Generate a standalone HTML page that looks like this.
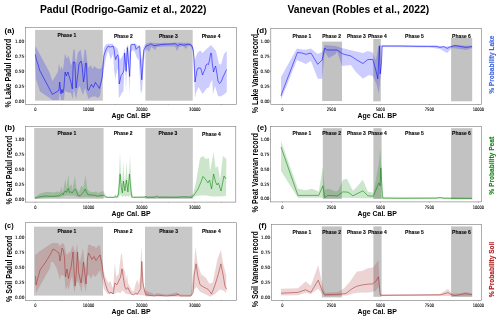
<!DOCTYPE html>
<html><head><meta charset="utf-8"><title>Padul and Vanevan records</title>
<style>html,body{margin:0;padding:0;background:#fff;width:500px;height:321px;overflow:hidden}svg{display:block}</style>
</head><body>
<svg width="500" height="321" viewBox="0 0 500 321"><text x="40.00" y="13.20" font-size="10.8" style="font-family:'Liberation Sans',sans-serif;font-weight:bold" fill="#000" text-anchor="start" textLength="166.40" lengthAdjust="spacingAndGlyphs">Padul (Rodrigo-Gamiz et al., 2022)</text>
<text x="287.40" y="13.20" font-size="10.8" style="font-family:'Liberation Sans',sans-serif;font-weight:bold" fill="#000" text-anchor="start" textLength="141.80" lengthAdjust="spacingAndGlyphs">Vanevan (Robles et al., 2022)</text>
<rect x="35.1" y="29.9" width="67.70" height="70.80" fill="#c8c8c8"/>
<rect x="145.4" y="29.9" width="47.30" height="70.80" fill="#c8c8c8"/>
<path d="M35.2,45.8 L49.4,72.0 L52.4,81.0 L57.9,72.0 L58.9,63.4 L60.4,69.9 L61.5,66.0 L63.0,70.0 L64.9,54.0 L65.7,55.0 L66.9,58.9 L68.4,55.4 L70.8,63.9 L71.8,64.9 L73.3,49.5 L74.8,50.0 L75.8,64.9 L77.8,53.0 L78.5,52.0 L80.5,49.5 L82.0,58.0 L83.0,64.0 L84.5,50.0 L86.0,49.5 L87.0,60.0 L88.5,68.0 L91.0,65.0 L92.4,69.0 L94.4,66.0 L96.4,68.0 L99.0,69.0 L101.4,68.0 L102.9,60.0 L103.9,48.0 L105.9,44.5 L108.0,43.7 L112.7,43.7 L113.5,45.0 L115.0,46.5 L116.4,47.5 L117.4,48.4 L118.1,50.3 L118.8,54.0 L120.0,60.0 L122.0,56.8 L123.4,54.0 L124.7,48.4 L125.8,55.0 L127.2,45.6 L128.1,44.7 L129.0,54.0 L130.5,43.7 L136.0,43.7 L137.0,45.6 L139.8,45.0 L141.8,60.0 L143.8,46.0 L146.0,43.5 L150.0,42.5 L155.0,43.0 L160.0,43.0 L165.0,42.8 L170.0,43.0 L175.0,42.5 L185.0,42.8 L190.0,43.0 L192.0,44.5 L193.5,48.0 L194.5,61.0 L196.0,56.0 L198.0,52.0 L200.5,50.5 L202.5,53.0 L206.0,49.5 L211.0,45.0 L213.5,48.0 L216.0,51.0 L219.0,64.0 L221.0,64.5 L224.0,54.0 L226.8,51.0 L226.8,92.0 L224.0,94.5 L220.5,96.5 L218.0,96.0 L215.0,86.0 L213.0,94.5 L212.2,80.0 L210.5,83.0 L209.0,87.5 L207.0,88.0 L202.5,94.0 L198.5,87.0 L196.0,93.0 L195.0,98.0 L194.0,70.0 L193.0,52.0 L191.0,46.5 L188.0,46.0 L186.0,49.0 L183.0,46.0 L179.0,47.0 L177.0,51.0 L175.0,46.5 L165.0,46.5 L157.0,47.0 L155.0,50.0 L153.0,48.0 L151.0,47.0 L149.0,52.0 L147.0,49.0 L145.0,52.0 L143.8,62.0 L142.2,89.8 L140.8,93.8 L138.8,60.0 L136.9,58.0 L134.9,52.0 L132.9,50.0 L130.9,52.0 L130.2,70.0 L129.5,94.8 L128.5,70.0 L127.5,60.0 L126.6,75.0 L126.0,91.5 L125.5,75.0 L124.6,60.0 L124.2,75.0 L123.4,91.5 L122.0,92.5 L120.2,96.2 L118.8,98.0 L118.3,75.0 L117.6,68.0 L116.9,71.9 L116.0,74.7 L115.5,80.3 L114.1,70.0 L113.1,54.0 L112.2,55.9 L110.8,59.6 L109.9,56.8 L108.0,50.3 L106.0,57.9 L104.0,67.9 L102.0,79.8 L100.0,95.8 L97.9,97.9 L95.5,96.4 L93.4,96.4 L91.0,96.9 L88.5,98.9 L86.5,93.0 L85.0,88.0 L83.0,95.0 L81.0,90.0 L79.8,85.9 L77.8,88.9 L76.5,96.9 L75.8,97.9 L73.8,88.9 L72.8,98.9 L70.9,92.9 L66.9,91.9 L64.9,90.9 L63.9,99.9 L60.9,99.9 L59.7,91.9 L58.9,99.9 L52.4,99.9 L40.0,91.4 L36.0,79.0 L35.2,64.5Z" fill="#0000ff" fill-opacity="0.2" stroke="none"/>
<path d="M35.2,54.4 L36.5,59.9 L38.5,65.9 L39.5,70.0 L52.4,94.4 L58.9,90.4 L59.7,82.0 L60.4,87.9 L60.9,93.9 L61.9,89.4 L62.9,92.9 L63.9,88.0 L65.1,72.0 L66.4,76.0 L67.9,72.0 L69.4,77.0 L70.9,82.0 L72.3,88.9 L73.3,62.0 L74.8,62.0 L76.0,88.0 L78.0,73.0 L79.0,64.0 L81.0,61.0 L82.0,65.0 L83.5,82.0 L84.5,76.0 L85.5,63.4 L86.3,63.0 L87.5,89.0 L88.5,90.4 L91.4,84.4 L93.4,87.4 L95.4,82.4 L97.4,85.4 L99.4,88.4 L101.4,81.0 L102.4,76.0 L103.9,56.0 L105.4,51.0 L107.4,47.0 L108.0,46.1 L109.9,47.0 L111.7,46.7 L113.1,46.1 L114.1,49.4 L115.0,56.8 L115.7,59.6 L116.9,55.9 L117.8,55.0 L118.5,58.7 L119.2,84.0 L119.7,82.2 L121.1,75.6 L123.0,72.8 L123.9,70.0 L124.6,53.0 L126.2,71.4 L127.3,47.5 L129.7,76.5 L130.9,45.6 L131.9,44.2 L133.3,44.7 L134.7,44.2 L136.1,49.4 L137.0,48.4 L138.4,47.0 L139.8,46.5 L140.2,56.0 L141.8,79.8 L143.8,50.0 L146.2,46.0 L148.8,45.2 L150.9,43.8 L154.0,45.8 L157.0,45.2 L161.2,44.6 L167.3,44.2 L175.6,43.8 L177.6,45.8 L179.7,44.2 L183.8,45.2 L187.9,44.2 L190.0,44.5 L192.0,46.0 L193.2,50.0 L194.0,58.0 L195.0,82.0 L196.0,76.0 L197.0,70.0 L198.0,68.0 L200.5,68.0 L201.0,69.0 L202.5,75.0 L205.5,68.0 L206.0,65.0 L207.5,64.0 L208.5,64.5 L209.5,60.0 L210.8,53.0 L211.5,53.5 L212.2,63.0 L213.0,68.0 L213.5,72.0 L214.5,69.0 L215.5,66.0 L216.0,68.0 L217.0,74.0 L218.0,81.0 L219.5,83.5 L221.0,82.0 L223.0,77.0 L225.0,73.0 L226.5,69.5" fill="none" stroke="#0000ff" stroke-width="0.6" stroke-opacity="0.9" stroke-linejoin="round"/>
<rect x="25.4" y="27.4" width="211.10" height="76.90" fill="none" stroke="#777777" stroke-width="0.6"/>
<line x1="24.40" y1="101.20" x2="25.40" y2="101.20" stroke="#777777" stroke-width="0.5"/>
<line x1="24.40" y1="86.20" x2="25.40" y2="86.20" stroke="#777777" stroke-width="0.5"/>
<line x1="24.40" y1="71.20" x2="25.40" y2="71.20" stroke="#777777" stroke-width="0.5"/>
<line x1="24.40" y1="56.20" x2="25.40" y2="56.20" stroke="#777777" stroke-width="0.5"/>
<line x1="24.40" y1="41.20" x2="25.40" y2="41.20" stroke="#777777" stroke-width="0.5"/>
<line x1="35.40" y1="104.30" x2="35.40" y2="105.30" stroke="#777777" stroke-width="0.5" stroke-opacity="1"/>
<line x1="61.98" y1="104.30" x2="61.98" y2="105.30" stroke="#777777" stroke-width="0.5" stroke-opacity="0.6"/>
<line x1="88.55" y1="104.30" x2="88.55" y2="105.30" stroke="#777777" stroke-width="0.5" stroke-opacity="1"/>
<line x1="115.12" y1="104.30" x2="115.12" y2="105.30" stroke="#777777" stroke-width="0.5" stroke-opacity="0.6"/>
<line x1="141.70" y1="104.30" x2="141.70" y2="105.30" stroke="#777777" stroke-width="0.5" stroke-opacity="1"/>
<line x1="168.28" y1="104.30" x2="168.28" y2="105.30" stroke="#777777" stroke-width="0.5" stroke-opacity="0.6"/>
<line x1="194.85" y1="104.30" x2="194.85" y2="105.30" stroke="#777777" stroke-width="0.5" stroke-opacity="1"/>
<line x1="221.43" y1="104.30" x2="221.43" y2="105.30" stroke="#777777" stroke-width="0.5" stroke-opacity="0.6"/>
<rect x="34.2" y="128.0" width="69.40" height="70.80" fill="#c8c8c8"/>
<rect x="145.4" y="128.0" width="47.40" height="70.80" fill="#c8c8c8"/>
<path d="M35.0,197.0 L40.0,193.5 L46.0,192.0 L50.0,191.9 L54.0,192.4 L57.0,191.4 L60.0,191.9 L61.5,185.9 L62.5,192.4 L63.5,189.0 L65.4,179.0 L66.4,188.0 L68.4,174.5 L69.4,187.0 L71.4,184.0 L72.4,190.0 L74.9,175.5 L76.4,188.0 L78.9,192.0 L81.4,185.4 L83.4,188.0 L85.4,175.0 L87.4,189.0 L89.4,191.4 L92.8,192.0 L94.0,191.9 L96.0,191.4 L98.0,193.0 L100.0,192.0 L103.5,191.1 L105.0,194.0 L106.0,196.4 L113.9,196.4 L115.4,193.9 L116.4,196.4 L117.9,191.9 L119.2,170.0 L120.0,152.0 L120.9,172.0 L121.8,186.0 L122.6,176.0 L123.3,161.5 L124.1,176.0 L124.9,184.0 L125.7,176.0 L126.5,160.5 L127.3,176.0 L128.2,184.0 L129.2,170.0 L130.0,155.0 L130.9,174.0 L131.8,190.0 L133.0,196.3 L145.0,196.2 L160.0,196.2 L190.0,196.2 L193.0,194.0 L196.0,182.0 L200.0,158.0 L203.0,156.0 L206.0,159.0 L209.0,158.0 L210.0,172.0 L213.6,152.0 L215.6,168.0 L218.0,166.0 L220.0,180.0 L223.0,156.0 L226.4,159.0 L226.0,196.0 L220.0,196.6 L212.0,196.6 L206.0,195.6 L200.0,195.6 L196.0,196.0 L193.0,197.6 L190.0,198.2 L145.0,198.2 L131.4,198.0 L129.9,195.0 L128.4,196.9 L126.9,195.4 L125.4,196.9 L123.9,195.4 L122.4,196.9 L120.4,194.5 L118.0,198.0 L106.0,198.0 L100.0,197.4 L90.0,197.2 L86.0,197.0 L80.0,197.4 L76.0,196.4 L74.0,195.8 L70.0,195.6 L66.0,195.6 L60.0,197.4 L50.0,197.4 L42.0,198.2 L35.0,199.0Z" fill="#008000" fill-opacity="0.2" stroke="none"/>
<path d="M35.0,198.3 L38.0,197.2 L42.0,196.4 L46.0,196.0 L50.0,196.4 L55.0,196.2 L59.0,195.9 L61.0,194.4 L62.0,193.4 L63.0,194.9 L64.4,191.9 L65.4,190.9 L66.4,192.4 L67.4,189.9 L68.4,188.4 L69.4,192.4 L70.9,191.9 L72.4,192.9 L73.9,190.4 L75.4,189.1 L76.4,191.4 L77.9,195.4 L79.9,195.9 L81.9,193.9 L83.9,191.4 L85.4,189.1 L86.4,191.9 L87.9,194.7 L89.8,194.9 L92.8,195.1 L95.8,195.4 L97.0,196.4 L99.5,195.7 L102.0,195.4 L104.0,195.1 L105.5,196.9 L108.0,197.4 L113.9,197.4 L115.4,196.4 L116.9,197.4 L118.4,194.9 L120.1,174.0 L121.4,187.9 L122.4,192.9 L123.4,181.0 L124.9,190.9 L126.4,180.0 L127.9,191.9 L129.4,174.0 L130.9,189.9 L131.8,196.9 L133.3,197.4 L145.0,197.2 L145.5,196.0 L146.5,197.4 L155.0,197.2 L156.5,196.0 L158.0,197.2 L176.0,197.3 L184.0,196.8 L192.0,197.3 L194.0,195.0 L198.0,189.0 L201.0,182.0 L203.0,176.4 L206.0,180.0 L208.0,183.0 L209.6,180.0 L211.6,189.0 L213.6,174.0 L215.6,182.0 L217.0,185.0 L218.4,183.0 L221.0,191.0 L224.0,176.0 L226.0,179.0" fill="none" stroke="#008000" stroke-width="0.6" stroke-opacity="0.9" stroke-linejoin="round"/>
<rect x="25.4" y="126.4" width="210.40" height="75.70" fill="none" stroke="#777777" stroke-width="0.6"/>
<line x1="24.40" y1="199.30" x2="25.40" y2="199.30" stroke="#777777" stroke-width="0.5"/>
<line x1="24.40" y1="184.30" x2="25.40" y2="184.30" stroke="#777777" stroke-width="0.5"/>
<line x1="24.40" y1="169.30" x2="25.40" y2="169.30" stroke="#777777" stroke-width="0.5"/>
<line x1="24.40" y1="154.30" x2="25.40" y2="154.30" stroke="#777777" stroke-width="0.5"/>
<line x1="24.40" y1="139.30" x2="25.40" y2="139.30" stroke="#777777" stroke-width="0.5"/>
<line x1="35.40" y1="202.10" x2="35.40" y2="203.10" stroke="#777777" stroke-width="0.5" stroke-opacity="1"/>
<line x1="61.98" y1="202.10" x2="61.98" y2="203.10" stroke="#777777" stroke-width="0.5" stroke-opacity="0.6"/>
<line x1="88.55" y1="202.10" x2="88.55" y2="203.10" stroke="#777777" stroke-width="0.5" stroke-opacity="1"/>
<line x1="115.12" y1="202.10" x2="115.12" y2="203.10" stroke="#777777" stroke-width="0.5" stroke-opacity="0.6"/>
<line x1="141.70" y1="202.10" x2="141.70" y2="203.10" stroke="#777777" stroke-width="0.5" stroke-opacity="1"/>
<line x1="168.28" y1="202.10" x2="168.28" y2="203.10" stroke="#777777" stroke-width="0.5" stroke-opacity="0.6"/>
<line x1="194.85" y1="202.10" x2="194.85" y2="203.10" stroke="#777777" stroke-width="0.5" stroke-opacity="1"/>
<line x1="221.43" y1="202.10" x2="221.43" y2="203.10" stroke="#777777" stroke-width="0.5" stroke-opacity="0.6"/>
<rect x="34.0" y="226.7" width="69.00" height="68.90" fill="#c8c8c8"/>
<rect x="145.0" y="226.7" width="47.30" height="68.90" fill="#c8c8c8"/>
<path d="M35.0,255.0 L40.0,251.0 L52.0,243.0 L58.0,243.0 L60.0,246.0 L62.0,243.0 L64.0,244.0 L65.0,248.0 L66.0,253.0 L67.5,255.0 L68.5,252.0 L70.0,253.0 L73.0,245.0 L74.0,249.0 L75.5,253.0 L77.0,243.5 L78.5,258.0 L80.0,262.0 L83.0,248.0 L84.5,263.0 L86.0,268.0 L88.0,245.0 L90.0,244.5 L92.0,246.0 L94.0,246.0 L96.0,248.0 L99.0,245.0 L100.0,245.6 L101.9,258.7 L103.7,271.7 L105.6,277.3 L108.4,282.9 L110.3,281.0 L111.6,284.8 L113.1,288.5 L114.9,262.4 L116.4,277.3 L118.7,273.6 L120.9,254.9 L122.0,253.0 L123.3,268.0 L125.2,271.7 L126.1,281.0 L127.1,273.6 L128.0,282.9 L129.9,286.6 L131.7,290.4 L133.6,291.3 L135.4,284.8 L137.3,279.2 L138.8,284.8 L140.1,277.3 L141.4,245.6 L142.5,268.0 L143.8,286.6 L145.7,290.4 L154.8,294.2 L157.0,293.0 L166.4,294.5 L176.8,292.5 L179.0,294.5 L190.8,294.8 L193.8,268.5 L195.4,246.4 L197.7,263.8 L201.2,274.3 L205.8,277.8 L209.3,283.6 L212.8,282.4 L217.4,259.2 L220.9,249.9 L223.2,263.8 L226.3,275.4 L226.3,292.8 L223.2,290.5 L219.8,289.4 L215.1,294.0 L210.5,296.8 L200.0,291.7 L196.6,287.0 L194.2,289.4 L190.8,296.8 L166.0,296.8 L146.6,296.5 L144.8,295.5 L137.3,295.0 L126.1,294.1 L122.4,290.4 L120.5,293.0 L116.8,292.2 L114.9,294.1 L107.5,294.1 L103.7,288.5 L101.9,278.0 L100.0,270.0 L97.0,275.0 L95.0,277.0 L93.0,274.0 L91.0,279.0 L89.0,275.0 L87.0,276.0 L86.0,293.0 L84.5,286.0 L83.0,281.0 L81.5,293.0 L80.0,286.0 L78.0,281.0 L76.0,284.0 L74.5,293.0 L72.0,276.0 L70.0,283.0 L68.5,290.0 L67.5,286.0 L65.5,290.0 L64.5,276.0 L61.0,275.0 L60.0,280.0 L57.0,269.0 L56.0,267.0 L53.0,262.0 L51.0,262.0 L50.0,268.0 L36.0,293.0 L35.0,272.0Z" fill="#a52a2a" fill-opacity="0.2" stroke="none"/>
<path d="M35.5,276.0 L36.0,285.0 L37.0,281.0 L39.0,274.0 L40.0,270.0 L45.0,263.0 L50.0,255.0 L53.0,249.0 L55.0,250.0 L59.0,253.0 L60.0,261.0 L61.0,255.0 L62.0,248.0 L63.5,250.5 L64.5,258.0 L65.5,277.0 L67.0,269.0 L68.5,278.5 L70.0,271.0 L71.0,268.0 L73.0,252.0 L74.0,270.0 L75.0,286.0 L76.0,276.0 L77.5,252.0 L78.5,272.0 L81.0,283.0 L82.5,272.0 L83.5,262.0 L85.0,275.0 L86.0,284.0 L87.0,272.0 L87.5,258.0 L88.5,253.0 L92.0,259.5 L94.0,256.5 L96.0,260.5 L100.0,254.9 L101.9,264.3 L103.7,277.3 L105.6,284.8 L107.5,290.4 L109.3,293.2 L111.2,292.2 L113.1,294.1 L114.9,282.9 L116.8,284.8 L118.7,281.0 L120.5,277.3 L122.0,268.9 L123.3,277.3 L124.8,286.6 L126.1,289.4 L128.0,287.6 L129.5,291.3 L131.3,294.1 L133.6,295.0 L135.4,293.2 L137.3,294.1 L139.2,291.3 L140.7,288.5 L141.8,261.5 L142.9,282.9 L144.8,292.2 L146.6,295.0 L154.8,295.9 L157.0,295.2 L166.4,295.9 L175.7,295.2 L178.0,294.0 L180.3,295.9 L190.8,295.9 L193.1,292.8 L194.2,275.4 L196.1,263.8 L197.7,275.4 L200.0,284.7 L203.5,287.0 L208.2,289.4 L211.6,294.0 L215.1,284.7 L218.6,273.1 L220.9,263.8 L223.2,275.4 L224.9,285.9 L226.7,289.4" fill="none" stroke="#a52a2a" stroke-width="0.6" stroke-opacity="0.9" stroke-linejoin="round"/>
<rect x="25.5" y="222.7" width="210.90" height="77.60" fill="none" stroke="#777777" stroke-width="0.6"/>
<line x1="24.50" y1="297.40" x2="25.50" y2="297.40" stroke="#777777" stroke-width="0.5"/>
<line x1="24.50" y1="282.32" x2="25.50" y2="282.32" stroke="#777777" stroke-width="0.5"/>
<line x1="24.50" y1="267.25" x2="25.50" y2="267.25" stroke="#777777" stroke-width="0.5"/>
<line x1="24.50" y1="252.17" x2="25.50" y2="252.17" stroke="#777777" stroke-width="0.5"/>
<line x1="24.50" y1="237.10" x2="25.50" y2="237.10" stroke="#777777" stroke-width="0.5"/>
<line x1="35.40" y1="300.30" x2="35.40" y2="301.30" stroke="#777777" stroke-width="0.5" stroke-opacity="1"/>
<line x1="61.98" y1="300.30" x2="61.98" y2="301.30" stroke="#777777" stroke-width="0.5" stroke-opacity="0.6"/>
<line x1="88.55" y1="300.30" x2="88.55" y2="301.30" stroke="#777777" stroke-width="0.5" stroke-opacity="1"/>
<line x1="115.12" y1="300.30" x2="115.12" y2="301.30" stroke="#777777" stroke-width="0.5" stroke-opacity="0.6"/>
<line x1="141.70" y1="300.30" x2="141.70" y2="301.30" stroke="#777777" stroke-width="0.5" stroke-opacity="1"/>
<line x1="168.28" y1="300.30" x2="168.28" y2="301.30" stroke="#777777" stroke-width="0.5" stroke-opacity="0.6"/>
<line x1="194.85" y1="300.30" x2="194.85" y2="301.30" stroke="#777777" stroke-width="0.5" stroke-opacity="1"/>
<line x1="221.43" y1="300.30" x2="221.43" y2="301.30" stroke="#777777" stroke-width="0.5" stroke-opacity="0.6"/>
<rect x="322.2" y="41.6" width="19.80" height="59.40" fill="#c2c2c2"/>
<rect x="373.3" y="39.0" width="7.50" height="62.30" fill="#c2c2c2"/>
<rect x="451.1" y="37.8" width="21.10" height="63.50" fill="#c2c2c2"/>
<path d="M281.0,76.9 L296.9,48.4 L301.9,49.5 L305.9,49.8 L310.9,48.4 L317.8,54.0 L322.2,52.0 L324.8,45.0 L335.8,46.0 L340.0,47.6 L349.9,50.0 L362.9,53.0 L367.8,51.0 L372.8,52.4 L375.8,60.0 L378.8,45.0 L382.2,45.2 L400.0,45.2 L436.0,45.4 L447.0,46.5 L455.0,44.8 L466.0,45.8 L472.0,45.4 L472.0,48.0 L466.0,50.0 L460.0,49.0 L452.0,48.0 L447.0,53.0 L440.0,49.0 L430.0,47.4 L382.2,47.0 L381.4,72.0 L380.2,79.8 L378.8,93.8 L376.8,84.8 L372.8,75.9 L368.8,74.9 L362.9,78.8 L355.9,71.9 L350.9,65.0 L342.0,66.0 L337.0,51.0 L335.8,54.0 L328.8,58.0 L324.8,52.0 L322.2,78.8 L317.8,78.8 L310.9,60.9 L305.9,63.9 L296.9,60.0 L281.0,99.8Z" fill="#0000ff" fill-opacity="0.2" stroke="none"/>
<path d="M281.0,95.8 L282.0,92.8 L297.5,52.4 L301.9,53.0 L305.9,54.3 L310.9,53.0 L317.8,64.3 L322.2,59.9 L324.8,48.0 L326.8,50.0 L337.0,50.0 L343.0,54.0 L350.9,56.0 L356.9,60.0 L362.9,63.5 L367.8,59.5 L372.8,59.5 L375.8,70.0 L377.8,78.8 L379.4,46.0 L380.2,73.9 L381.4,63.9 L382.2,46.0 L400.0,46.0 L420.0,46.4 L436.0,46.4 L440.0,47.4 L444.0,46.6 L447.0,48.4 L450.0,47.0 L455.0,45.6 L460.0,46.4 L466.0,47.4 L472.0,46.6" fill="none" stroke="#0000ff" stroke-width="0.6" stroke-opacity="0.9" stroke-linejoin="round"/>
<rect x="270.8" y="28.4" width="210.80" height="75.90" fill="none" stroke="#777777" stroke-width="0.6"/>
<line x1="269.80" y1="101.20" x2="270.80" y2="101.20" stroke="#777777" stroke-width="0.5"/>
<line x1="269.80" y1="86.25" x2="270.80" y2="86.25" stroke="#777777" stroke-width="0.5"/>
<line x1="269.80" y1="71.30" x2="270.80" y2="71.30" stroke="#777777" stroke-width="0.5"/>
<line x1="269.80" y1="56.35" x2="270.80" y2="56.35" stroke="#777777" stroke-width="0.5"/>
<line x1="269.80" y1="41.40" x2="270.80" y2="41.40" stroke="#777777" stroke-width="0.5"/>
<line x1="282.35" y1="104.30" x2="282.35" y2="105.30" stroke="#777777" stroke-width="0.5"/>
<line x1="331.36" y1="104.30" x2="331.36" y2="105.30" stroke="#777777" stroke-width="0.5"/>
<line x1="380.38" y1="104.30" x2="380.38" y2="105.30" stroke="#777777" stroke-width="0.5"/>
<line x1="429.39" y1="104.30" x2="429.39" y2="105.30" stroke="#777777" stroke-width="0.5"/>
<line x1="478.40" y1="104.30" x2="478.40" y2="105.30" stroke="#777777" stroke-width="0.5"/>
<rect x="322.8" y="128.2" width="19.00" height="70.80" fill="#c2c2c2"/>
<rect x="373.4" y="128.2" width="8.20" height="70.80" fill="#c2c2c2"/>
<rect x="451.1" y="128.2" width="21.20" height="71.20" fill="#c2c2c2"/>
<path d="M281.0,141.0 L297.9,188.8 L305.9,190.2 L311.9,188.8 L318.8,191.4 L322.8,166.9 L324.8,189.8 L328.8,188.8 L335.8,191.4 L338.0,190.8 L343.0,179.8 L347.0,178.8 L352.9,190.8 L356.9,186.8 L362.9,179.8 L367.8,191.4 L373.4,192.8 L378.8,163.9 L380.2,149.0 L381.4,165.9 L382.2,196.8 L440.0,197.0 L472.0,197.8 L472.0,198.8 L382.2,198.6 L335.8,197.8 L318.8,197.8 L297.9,197.8 L281.0,170.9Z" fill="#008000" fill-opacity="0.2" stroke="none"/>
<path d="M281.0,147.0 L297.9,195.4 L318.8,195.4 L322.8,185.8 L324.8,197.8 L327.8,195.4 L335.8,195.8 L337.0,196.2 L343.0,191.8 L348.0,192.2 L352.9,195.8 L356.9,193.8 L362.9,190.8 L367.8,195.8 L373.4,196.2 L378.8,182.8 L380.2,185.8 L380.8,167.9 L381.8,183.8 L382.8,198.2 L400.0,198.4 L436.0,198.2 L440.0,197.5 L444.0,198.3 L472.0,198.4" fill="none" stroke="#008000" stroke-width="0.6" stroke-opacity="0.9" stroke-linejoin="round"/>
<rect x="270.6" y="126.4" width="211.00" height="75.50" fill="none" stroke="#777777" stroke-width="0.6"/>
<line x1="269.60" y1="198.70" x2="270.60" y2="198.70" stroke="#777777" stroke-width="0.5"/>
<line x1="269.60" y1="183.85" x2="270.60" y2="183.85" stroke="#777777" stroke-width="0.5"/>
<line x1="269.60" y1="169.00" x2="270.60" y2="169.00" stroke="#777777" stroke-width="0.5"/>
<line x1="269.60" y1="154.15" x2="270.60" y2="154.15" stroke="#777777" stroke-width="0.5"/>
<line x1="269.60" y1="139.30" x2="270.60" y2="139.30" stroke="#777777" stroke-width="0.5"/>
<line x1="282.35" y1="201.90" x2="282.35" y2="202.90" stroke="#777777" stroke-width="0.5"/>
<line x1="331.36" y1="201.90" x2="331.36" y2="202.90" stroke="#777777" stroke-width="0.5"/>
<line x1="380.38" y1="201.90" x2="380.38" y2="202.90" stroke="#777777" stroke-width="0.5"/>
<line x1="429.39" y1="201.90" x2="429.39" y2="202.90" stroke="#777777" stroke-width="0.5"/>
<line x1="478.40" y1="201.90" x2="478.40" y2="202.90" stroke="#777777" stroke-width="0.5"/>
<rect x="321.8" y="226.4" width="20.00" height="71.00" fill="#c2c2c2"/>
<rect x="373.4" y="226.4" width="8.20" height="70.40" fill="#c2c2c2"/>
<rect x="451.1" y="226.4" width="21.20" height="70.60" fill="#c2c2c2"/>
<path d="M281.0,288.8 L297.9,288.2 L305.5,281.4 L310.9,285.8 L318.2,264.9 L321.8,281.8 L324.8,292.8 L335.8,292.2 L338.0,292.2 L344.0,288.2 L349.9,281.8 L356.9,271.5 L361.9,270.9 L367.8,268.3 L372.8,267.5 L375.8,263.9 L378.4,259.9 L379.4,275.8 L380.2,294.2 L440.0,294.0 L448.0,289.0 L452.0,293.5 L460.0,293.2 L466.0,292.0 L472.0,293.6 L472.0,296.0 L380.2,296.0 L378.8,286.8 L375.8,290.8 L369.8,292.4 L357.9,292.8 L351.9,293.8 L347.0,295.6 L324.8,296.2 L321.8,293.8 L318.2,288.8 L310.9,294.0 L305.9,292.8 L297.9,295.2 L281.0,295.4Z" fill="#a52a2a" fill-opacity="0.2" stroke="none"/>
<path d="M281.0,293.2 L297.9,292.4 L305.5,289.8 L310.9,292.4 L318.2,280.2 L321.8,289.8 L324.8,294.8 L335.8,294.4 L341.0,294.2 L346.0,293.4 L351.9,288.8 L356.9,286.2 L362.9,284.8 L367.8,284.2 L372.8,283.8 L375.8,281.4 L378.4,276.8 L379.4,285.8 L380.2,294.8 L381.8,295.4 L440.0,294.8 L445.0,293.6 L448.0,292.6 L451.0,294.5 L455.0,295.6 L462.0,294.2 L466.0,293.6 L472.0,294.6" fill="none" stroke="#a52a2a" stroke-width="0.6" stroke-opacity="0.9" stroke-linejoin="round"/>
<rect x="271.3" y="224.6" width="210.30" height="75.80" fill="none" stroke="#777777" stroke-width="0.6"/>
<line x1="270.30" y1="297.20" x2="271.30" y2="297.20" stroke="#777777" stroke-width="0.5"/>
<line x1="270.30" y1="282.30" x2="271.30" y2="282.30" stroke="#777777" stroke-width="0.5"/>
<line x1="270.30" y1="267.40" x2="271.30" y2="267.40" stroke="#777777" stroke-width="0.5"/>
<line x1="270.30" y1="252.50" x2="271.30" y2="252.50" stroke="#777777" stroke-width="0.5"/>
<line x1="270.30" y1="237.60" x2="271.30" y2="237.60" stroke="#777777" stroke-width="0.5"/>
<line x1="282.35" y1="300.40" x2="282.35" y2="301.40" stroke="#777777" stroke-width="0.5"/>
<line x1="331.36" y1="300.40" x2="331.36" y2="301.40" stroke="#777777" stroke-width="0.5"/>
<line x1="380.38" y1="300.40" x2="380.38" y2="301.40" stroke="#777777" stroke-width="0.5"/>
<line x1="429.39" y1="300.40" x2="429.39" y2="301.40" stroke="#777777" stroke-width="0.5"/>
<line x1="478.40" y1="300.40" x2="478.40" y2="301.40" stroke="#777777" stroke-width="0.5"/>
<text x="24.20" y="102.85" font-size="4.5" style="font-family:'DejaVu Sans',sans-serif" fill="#111" text-anchor="end" textLength="9.30" lengthAdjust="spacingAndGlyphs" stroke="#111" stroke-width="0.12">0.00</text>
<text x="24.20" y="87.85" font-size="4.5" style="font-family:'DejaVu Sans',sans-serif" fill="#111" text-anchor="end" textLength="9.30" lengthAdjust="spacingAndGlyphs" stroke="#111" stroke-width="0.12">0.25</text>
<text x="24.20" y="72.85" font-size="4.5" style="font-family:'DejaVu Sans',sans-serif" fill="#111" text-anchor="end" textLength="9.30" lengthAdjust="spacingAndGlyphs" stroke="#111" stroke-width="0.12">0.50</text>
<text x="24.20" y="57.85" font-size="4.5" style="font-family:'DejaVu Sans',sans-serif" fill="#111" text-anchor="end" textLength="9.30" lengthAdjust="spacingAndGlyphs" stroke="#111" stroke-width="0.12">0.75</text>
<text x="24.20" y="42.85" font-size="4.5" style="font-family:'DejaVu Sans',sans-serif" fill="#111" text-anchor="end" textLength="9.30" lengthAdjust="spacingAndGlyphs" stroke="#111" stroke-width="0.12">1.00</text>
<text x="35.40" y="110.80" font-size="4.6" style="font-family:'DejaVu Sans',sans-serif" fill="#111" text-anchor="middle" textLength="2.30" lengthAdjust="spacingAndGlyphs" stroke="#111" stroke-width="0.12">0</text>
<text x="88.55" y="110.80" font-size="4.6" style="font-family:'DejaVu Sans',sans-serif" fill="#111" text-anchor="middle" textLength="11.50" lengthAdjust="spacingAndGlyphs" stroke="#111" stroke-width="0.12">10000</text>
<text x="141.70" y="110.80" font-size="4.6" style="font-family:'DejaVu Sans',sans-serif" fill="#111" text-anchor="middle" textLength="11.50" lengthAdjust="spacingAndGlyphs" stroke="#111" stroke-width="0.12">20000</text>
<text x="194.85" y="110.80" font-size="4.6" style="font-family:'DejaVu Sans',sans-serif" fill="#111" text-anchor="middle" textLength="11.50" lengthAdjust="spacingAndGlyphs" stroke="#111" stroke-width="0.12">30000</text>
<text x="24.20" y="200.95" font-size="4.5" style="font-family:'DejaVu Sans',sans-serif" fill="#111" text-anchor="end" textLength="9.30" lengthAdjust="spacingAndGlyphs" stroke="#111" stroke-width="0.12">0.00</text>
<text x="24.20" y="185.95" font-size="4.5" style="font-family:'DejaVu Sans',sans-serif" fill="#111" text-anchor="end" textLength="9.30" lengthAdjust="spacingAndGlyphs" stroke="#111" stroke-width="0.12">0.25</text>
<text x="24.20" y="170.95" font-size="4.5" style="font-family:'DejaVu Sans',sans-serif" fill="#111" text-anchor="end" textLength="9.30" lengthAdjust="spacingAndGlyphs" stroke="#111" stroke-width="0.12">0.50</text>
<text x="24.20" y="155.95" font-size="4.5" style="font-family:'DejaVu Sans',sans-serif" fill="#111" text-anchor="end" textLength="9.30" lengthAdjust="spacingAndGlyphs" stroke="#111" stroke-width="0.12">0.75</text>
<text x="24.20" y="140.95" font-size="4.5" style="font-family:'DejaVu Sans',sans-serif" fill="#111" text-anchor="end" textLength="9.30" lengthAdjust="spacingAndGlyphs" stroke="#111" stroke-width="0.12">1.00</text>
<text x="35.40" y="208.60" font-size="4.6" style="font-family:'DejaVu Sans',sans-serif" fill="#111" text-anchor="middle" textLength="2.30" lengthAdjust="spacingAndGlyphs" stroke="#111" stroke-width="0.12">0</text>
<text x="88.55" y="208.60" font-size="4.6" style="font-family:'DejaVu Sans',sans-serif" fill="#111" text-anchor="middle" textLength="11.50" lengthAdjust="spacingAndGlyphs" stroke="#111" stroke-width="0.12">10000</text>
<text x="141.70" y="208.60" font-size="4.6" style="font-family:'DejaVu Sans',sans-serif" fill="#111" text-anchor="middle" textLength="11.50" lengthAdjust="spacingAndGlyphs" stroke="#111" stroke-width="0.12">20000</text>
<text x="194.85" y="208.60" font-size="4.6" style="font-family:'DejaVu Sans',sans-serif" fill="#111" text-anchor="middle" textLength="11.50" lengthAdjust="spacingAndGlyphs" stroke="#111" stroke-width="0.12">30000</text>
<text x="24.30" y="299.05" font-size="4.5" style="font-family:'DejaVu Sans',sans-serif" fill="#111" text-anchor="end" textLength="9.30" lengthAdjust="spacingAndGlyphs" stroke="#111" stroke-width="0.12">0.00</text>
<text x="24.30" y="283.97" font-size="4.5" style="font-family:'DejaVu Sans',sans-serif" fill="#111" text-anchor="end" textLength="9.30" lengthAdjust="spacingAndGlyphs" stroke="#111" stroke-width="0.12">0.25</text>
<text x="24.30" y="268.90" font-size="4.5" style="font-family:'DejaVu Sans',sans-serif" fill="#111" text-anchor="end" textLength="9.30" lengthAdjust="spacingAndGlyphs" stroke="#111" stroke-width="0.12">0.50</text>
<text x="24.30" y="253.82" font-size="4.5" style="font-family:'DejaVu Sans',sans-serif" fill="#111" text-anchor="end" textLength="9.30" lengthAdjust="spacingAndGlyphs" stroke="#111" stroke-width="0.12">0.75</text>
<text x="24.30" y="238.75" font-size="4.5" style="font-family:'DejaVu Sans',sans-serif" fill="#111" text-anchor="end" textLength="9.30" lengthAdjust="spacingAndGlyphs" stroke="#111" stroke-width="0.12">1.00</text>
<text x="35.40" y="306.80" font-size="4.6" style="font-family:'DejaVu Sans',sans-serif" fill="#111" text-anchor="middle" textLength="2.30" lengthAdjust="spacingAndGlyphs" stroke="#111" stroke-width="0.12">0</text>
<text x="88.55" y="306.80" font-size="4.6" style="font-family:'DejaVu Sans',sans-serif" fill="#111" text-anchor="middle" textLength="11.50" lengthAdjust="spacingAndGlyphs" stroke="#111" stroke-width="0.12">10000</text>
<text x="141.70" y="306.80" font-size="4.6" style="font-family:'DejaVu Sans',sans-serif" fill="#111" text-anchor="middle" textLength="11.50" lengthAdjust="spacingAndGlyphs" stroke="#111" stroke-width="0.12">20000</text>
<text x="194.85" y="306.80" font-size="4.6" style="font-family:'DejaVu Sans',sans-serif" fill="#111" text-anchor="middle" textLength="11.50" lengthAdjust="spacingAndGlyphs" stroke="#111" stroke-width="0.12">30000</text>
<text x="269.60" y="102.85" font-size="4.5" style="font-family:'DejaVu Sans',sans-serif" fill="#111" text-anchor="end" textLength="9.00" lengthAdjust="spacingAndGlyphs" stroke="#111" stroke-width="0.12">0.00</text>
<text x="269.60" y="87.90" font-size="4.5" style="font-family:'DejaVu Sans',sans-serif" fill="#111" text-anchor="end" textLength="9.00" lengthAdjust="spacingAndGlyphs" stroke="#111" stroke-width="0.12">0.25</text>
<text x="269.60" y="72.95" font-size="4.5" style="font-family:'DejaVu Sans',sans-serif" fill="#111" text-anchor="end" textLength="9.00" lengthAdjust="spacingAndGlyphs" stroke="#111" stroke-width="0.12">0.50</text>
<text x="269.60" y="58.00" font-size="4.5" style="font-family:'DejaVu Sans',sans-serif" fill="#111" text-anchor="end" textLength="9.00" lengthAdjust="spacingAndGlyphs" stroke="#111" stroke-width="0.12">0.75</text>
<text x="269.60" y="43.05" font-size="4.5" style="font-family:'DejaVu Sans',sans-serif" fill="#111" text-anchor="end" textLength="9.00" lengthAdjust="spacingAndGlyphs" stroke="#111" stroke-width="0.12">1.00</text>
<text x="282.35" y="111.20" font-size="4.6" style="font-family:'DejaVu Sans',sans-serif" fill="#111" text-anchor="middle" textLength="2.28" lengthAdjust="spacingAndGlyphs" stroke="#111" stroke-width="0.12">0</text>
<text x="331.36" y="111.20" font-size="4.6" style="font-family:'DejaVu Sans',sans-serif" fill="#111" text-anchor="middle" textLength="9.12" lengthAdjust="spacingAndGlyphs" stroke="#111" stroke-width="0.12">2500</text>
<text x="380.38" y="111.20" font-size="4.6" style="font-family:'DejaVu Sans',sans-serif" fill="#111" text-anchor="middle" textLength="9.12" lengthAdjust="spacingAndGlyphs" stroke="#111" stroke-width="0.12">5000</text>
<text x="429.39" y="111.20" font-size="4.6" style="font-family:'DejaVu Sans',sans-serif" fill="#111" text-anchor="middle" textLength="9.12" lengthAdjust="spacingAndGlyphs" stroke="#111" stroke-width="0.12">7500</text>
<text x="478.40" y="111.20" font-size="4.6" style="font-family:'DejaVu Sans',sans-serif" fill="#111" text-anchor="middle" textLength="11.40" lengthAdjust="spacingAndGlyphs" stroke="#111" stroke-width="0.12">10000</text>
<text x="269.40" y="200.35" font-size="4.5" style="font-family:'DejaVu Sans',sans-serif" fill="#111" text-anchor="end" textLength="9.00" lengthAdjust="spacingAndGlyphs" stroke="#111" stroke-width="0.12">0.00</text>
<text x="269.40" y="185.50" font-size="4.5" style="font-family:'DejaVu Sans',sans-serif" fill="#111" text-anchor="end" textLength="9.00" lengthAdjust="spacingAndGlyphs" stroke="#111" stroke-width="0.12">0.25</text>
<text x="269.40" y="170.65" font-size="4.5" style="font-family:'DejaVu Sans',sans-serif" fill="#111" text-anchor="end" textLength="9.00" lengthAdjust="spacingAndGlyphs" stroke="#111" stroke-width="0.12">0.50</text>
<text x="269.40" y="155.80" font-size="4.5" style="font-family:'DejaVu Sans',sans-serif" fill="#111" text-anchor="end" textLength="9.00" lengthAdjust="spacingAndGlyphs" stroke="#111" stroke-width="0.12">0.75</text>
<text x="269.40" y="140.95" font-size="4.5" style="font-family:'DejaVu Sans',sans-serif" fill="#111" text-anchor="end" textLength="9.00" lengthAdjust="spacingAndGlyphs" stroke="#111" stroke-width="0.12">1.00</text>
<text x="282.35" y="208.80" font-size="4.6" style="font-family:'DejaVu Sans',sans-serif" fill="#111" text-anchor="middle" textLength="2.28" lengthAdjust="spacingAndGlyphs" stroke="#111" stroke-width="0.12">0</text>
<text x="331.36" y="208.80" font-size="4.6" style="font-family:'DejaVu Sans',sans-serif" fill="#111" text-anchor="middle" textLength="9.12" lengthAdjust="spacingAndGlyphs" stroke="#111" stroke-width="0.12">2500</text>
<text x="380.38" y="208.80" font-size="4.6" style="font-family:'DejaVu Sans',sans-serif" fill="#111" text-anchor="middle" textLength="9.12" lengthAdjust="spacingAndGlyphs" stroke="#111" stroke-width="0.12">5000</text>
<text x="429.39" y="208.80" font-size="4.6" style="font-family:'DejaVu Sans',sans-serif" fill="#111" text-anchor="middle" textLength="9.12" lengthAdjust="spacingAndGlyphs" stroke="#111" stroke-width="0.12">7500</text>
<text x="478.40" y="208.80" font-size="4.6" style="font-family:'DejaVu Sans',sans-serif" fill="#111" text-anchor="middle" textLength="11.40" lengthAdjust="spacingAndGlyphs" stroke="#111" stroke-width="0.12">10000</text>
<text x="270.10" y="298.85" font-size="4.5" style="font-family:'DejaVu Sans',sans-serif" fill="#111" text-anchor="end" textLength="9.00" lengthAdjust="spacingAndGlyphs" stroke="#111" stroke-width="0.12">0.00</text>
<text x="270.10" y="283.95" font-size="4.5" style="font-family:'DejaVu Sans',sans-serif" fill="#111" text-anchor="end" textLength="9.00" lengthAdjust="spacingAndGlyphs" stroke="#111" stroke-width="0.12">0.25</text>
<text x="270.10" y="269.05" font-size="4.5" style="font-family:'DejaVu Sans',sans-serif" fill="#111" text-anchor="end" textLength="9.00" lengthAdjust="spacingAndGlyphs" stroke="#111" stroke-width="0.12">0.50</text>
<text x="270.10" y="254.15" font-size="4.5" style="font-family:'DejaVu Sans',sans-serif" fill="#111" text-anchor="end" textLength="9.00" lengthAdjust="spacingAndGlyphs" stroke="#111" stroke-width="0.12">0.75</text>
<text x="270.10" y="239.25" font-size="4.5" style="font-family:'DejaVu Sans',sans-serif" fill="#111" text-anchor="end" textLength="9.00" lengthAdjust="spacingAndGlyphs" stroke="#111" stroke-width="0.12">1.00</text>
<text x="282.35" y="307.30" font-size="4.6" style="font-family:'DejaVu Sans',sans-serif" fill="#111" text-anchor="middle" textLength="2.28" lengthAdjust="spacingAndGlyphs" stroke="#111" stroke-width="0.12">0</text>
<text x="331.36" y="307.30" font-size="4.6" style="font-family:'DejaVu Sans',sans-serif" fill="#111" text-anchor="middle" textLength="9.12" lengthAdjust="spacingAndGlyphs" stroke="#111" stroke-width="0.12">2500</text>
<text x="380.38" y="307.30" font-size="4.6" style="font-family:'DejaVu Sans',sans-serif" fill="#111" text-anchor="middle" textLength="9.12" lengthAdjust="spacingAndGlyphs" stroke="#111" stroke-width="0.12">5000</text>
<text x="429.39" y="307.30" font-size="4.6" style="font-family:'DejaVu Sans',sans-serif" fill="#111" text-anchor="middle" textLength="9.12" lengthAdjust="spacingAndGlyphs" stroke="#111" stroke-width="0.12">7500</text>
<text x="478.40" y="307.30" font-size="4.6" style="font-family:'DejaVu Sans',sans-serif" fill="#111" text-anchor="middle" textLength="11.40" lengthAdjust="spacingAndGlyphs" stroke="#111" stroke-width="0.12">10000</text>
<text x="4.60" y="33.00" font-size="8.0" style="font-family:'Liberation Sans',sans-serif;font-weight:bold" fill="#000" text-anchor="start" textLength="9.70" lengthAdjust="spacingAndGlyphs">(a)</text>
<text x="4.60" y="130.30" font-size="8.0" style="font-family:'Liberation Sans',sans-serif;font-weight:bold" fill="#000" text-anchor="start" textLength="10.20" lengthAdjust="spacingAndGlyphs">(b)</text>
<text x="4.60" y="228.30" font-size="8.0" style="font-family:'Liberation Sans',sans-serif;font-weight:bold" fill="#000" text-anchor="start" textLength="9.00" lengthAdjust="spacingAndGlyphs">(c)</text>
<text x="256.60" y="33.00" font-size="8.0" style="font-family:'Liberation Sans',sans-serif;font-weight:bold" fill="#000" text-anchor="start" textLength="10.20" lengthAdjust="spacingAndGlyphs">(d)</text>
<text x="257.10" y="130.30" font-size="8.0" style="font-family:'Liberation Sans',sans-serif;font-weight:bold" fill="#000" text-anchor="start" textLength="9.70" lengthAdjust="spacingAndGlyphs">(e)</text>
<text x="258.60" y="228.20" font-size="8.0" style="font-family:'Liberation Sans',sans-serif;font-weight:bold" fill="#000" text-anchor="start" textLength="8.00" lengthAdjust="spacingAndGlyphs">(f)</text>
<text x="111.40" y="117.80" font-size="7.5" style="font-family:'Liberation Sans',sans-serif;font-weight:bold" fill="#000" text-anchor="start" textLength="39.20" lengthAdjust="spacingAndGlyphs">Age Cal. BP</text>
<text x="111.40" y="215.70" font-size="7.5" style="font-family:'Liberation Sans',sans-serif;font-weight:bold" fill="#000" text-anchor="start" textLength="39.20" lengthAdjust="spacingAndGlyphs">Age Cal. BP</text>
<text x="111.40" y="313.90" font-size="7.5" style="font-family:'Liberation Sans',sans-serif;font-weight:bold" fill="#000" text-anchor="start" textLength="39.20" lengthAdjust="spacingAndGlyphs">Age Cal. BP</text>
<text x="357.60" y="117.60" font-size="7.5" style="font-family:'Liberation Sans',sans-serif;font-weight:bold" fill="#000" text-anchor="start" textLength="39.20" lengthAdjust="spacingAndGlyphs">Age Cal. BP</text>
<text x="357.60" y="215.50" font-size="7.5" style="font-family:'Liberation Sans',sans-serif;font-weight:bold" fill="#000" text-anchor="start" textLength="39.20" lengthAdjust="spacingAndGlyphs">Age Cal. BP</text>
<text x="357.60" y="313.90" font-size="7.5" style="font-family:'Liberation Sans',sans-serif;font-weight:bold" fill="#000" text-anchor="start" textLength="39.20" lengthAdjust="spacingAndGlyphs">Age Cal. BP</text>
<text x="11.50" y="107.40" font-size="8.4" style="font-family:'Liberation Sans',sans-serif;font-weight:bold" fill="#000" text-anchor="start" textLength="68.60" lengthAdjust="spacingAndGlyphs" transform="rotate(-90 11.50 107.40)">% Lake Padul record</text>
<text x="11.60" y="204.60" font-size="8.4" style="font-family:'Liberation Sans',sans-serif;font-weight:bold" fill="#000" text-anchor="start" textLength="68.90" lengthAdjust="spacingAndGlyphs" transform="rotate(-90 11.60 204.60)">% Peat Padul record</text>
<text x="11.60" y="302.00" font-size="8.4" style="font-family:'Liberation Sans',sans-serif;font-weight:bold" fill="#000" text-anchor="start" textLength="66.40" lengthAdjust="spacingAndGlyphs" transform="rotate(-90 11.60 302.00)">% Soil Padul record</text>
<text x="257.90" y="113.20" font-size="8.8" style="font-family:'Liberation Sans',sans-serif;font-weight:bold" fill="#000" text-anchor="start" textLength="79.40" lengthAdjust="spacingAndGlyphs" transform="rotate(-90 257.90 113.20)">% Lake Vanevan record</text>
<text x="257.90" y="212.40" font-size="8.8" style="font-family:'Liberation Sans',sans-serif;font-weight:bold" fill="#000" text-anchor="start" textLength="79.30" lengthAdjust="spacingAndGlyphs" transform="rotate(-90 257.90 212.40)">% Peat Vanevan record</text>
<text x="257.90" y="307.30" font-size="8.8" style="font-family:'Liberation Sans',sans-serif;font-weight:bold" fill="#000" text-anchor="start" textLength="76.10" lengthAdjust="spacingAndGlyphs" transform="rotate(-90 257.90 307.30)">% Soil Vanevan record</text>
<text x="494.10" y="93.80" font-size="7.8" style="font-family:'Liberation Sans',sans-serif;font-weight:bold" fill="#4169e1" text-anchor="start" textLength="58.20" lengthAdjust="spacingAndGlyphs" transform="rotate(-90 494.10 93.80)" stroke="#4169e1" stroke-width="0.15">% Probability Lake</text>
<text x="494.10" y="194.80" font-size="7.8" style="font-family:'Liberation Sans',sans-serif;font-weight:bold" fill="#1c861c" text-anchor="start" textLength="58.00" lengthAdjust="spacingAndGlyphs" transform="rotate(-90 494.10 194.80)" stroke="#1c861c" stroke-width="0.15">% Probability Peat</text>
<text x="494.10" y="297.30" font-size="7.8" style="font-family:'Liberation Sans',sans-serif;font-weight:bold" fill="#b22222" text-anchor="start" textLength="55.50" lengthAdjust="spacingAndGlyphs" transform="rotate(-90 494.10 297.30)" stroke="#b22222" stroke-width="0.15">% Probability Soil</text>
<text x="67.00" y="37.00" font-size="5.6" style="font-family:'Liberation Sans',sans-serif;font-weight:bold" fill="#000" text-anchor="middle" textLength="18.80" lengthAdjust="spacingAndGlyphs" stroke="#000" stroke-width="0.1">Phase 1</text>
<text x="123.40" y="37.50" font-size="5.6" style="font-family:'Liberation Sans',sans-serif;font-weight:bold" fill="#000" text-anchor="middle" textLength="18.80" lengthAdjust="spacingAndGlyphs" stroke="#000" stroke-width="0.1">Phase 2</text>
<text x="168.30" y="37.50" font-size="5.6" style="font-family:'Liberation Sans',sans-serif;font-weight:bold" fill="#000" text-anchor="middle" textLength="18.80" lengthAdjust="spacingAndGlyphs" stroke="#000" stroke-width="0.1">Phase 3</text>
<text x="211.10" y="37.50" font-size="5.6" style="font-family:'Liberation Sans',sans-serif;font-weight:bold" fill="#000" text-anchor="middle" textLength="18.80" lengthAdjust="spacingAndGlyphs" stroke="#000" stroke-width="0.1">Phase 4</text>
<text x="67.00" y="135.20" font-size="5.6" style="font-family:'Liberation Sans',sans-serif;font-weight:bold" fill="#000" text-anchor="middle" textLength="18.80" lengthAdjust="spacingAndGlyphs" stroke="#000" stroke-width="0.1">Phase 1</text>
<text x="123.20" y="135.40" font-size="5.6" style="font-family:'Liberation Sans',sans-serif;font-weight:bold" fill="#000" text-anchor="middle" textLength="18.80" lengthAdjust="spacingAndGlyphs" stroke="#000" stroke-width="0.1">Phase 2</text>
<text x="168.00" y="135.20" font-size="5.6" style="font-family:'Liberation Sans',sans-serif;font-weight:bold" fill="#000" text-anchor="middle" textLength="18.80" lengthAdjust="spacingAndGlyphs" stroke="#000" stroke-width="0.1">Phase 3</text>
<text x="211.50" y="135.80" font-size="5.6" style="font-family:'Liberation Sans',sans-serif;font-weight:bold" fill="#000" text-anchor="middle" textLength="18.80" lengthAdjust="spacingAndGlyphs" stroke="#000" stroke-width="0.1">Phase 4</text>
<text x="67.00" y="233.20" font-size="5.6" style="font-family:'Liberation Sans',sans-serif;font-weight:bold" fill="#000" text-anchor="middle" textLength="18.80" lengthAdjust="spacingAndGlyphs" stroke="#000" stroke-width="0.1">Phase 1</text>
<text x="123.20" y="233.40" font-size="5.6" style="font-family:'Liberation Sans',sans-serif;font-weight:bold" fill="#000" text-anchor="middle" textLength="18.80" lengthAdjust="spacingAndGlyphs" stroke="#000" stroke-width="0.1">Phase 2</text>
<text x="168.60" y="233.20" font-size="5.6" style="font-family:'Liberation Sans',sans-serif;font-weight:bold" fill="#000" text-anchor="middle" textLength="18.80" lengthAdjust="spacingAndGlyphs" stroke="#000" stroke-width="0.1">Phase 3</text>
<text x="211.30" y="233.40" font-size="5.6" style="font-family:'Liberation Sans',sans-serif;font-weight:bold" fill="#000" text-anchor="middle" textLength="18.80" lengthAdjust="spacingAndGlyphs" stroke="#000" stroke-width="0.1">Phase 4</text>
<text x="302.00" y="37.50" font-size="5.6" style="font-family:'Liberation Sans',sans-serif;font-weight:bold" fill="#000" text-anchor="middle" textLength="18.80" lengthAdjust="spacingAndGlyphs" stroke="#000" stroke-width="0.1">Phase 1</text>
<text x="331.60" y="37.50" font-size="5.6" style="font-family:'Liberation Sans',sans-serif;font-weight:bold" fill="#000" text-anchor="middle" textLength="18.80" lengthAdjust="spacingAndGlyphs" stroke="#000" stroke-width="0.1">Phase 2</text>
<text x="356.40" y="37.50" font-size="5.6" style="font-family:'Liberation Sans',sans-serif;font-weight:bold" fill="#000" text-anchor="middle" textLength="18.80" lengthAdjust="spacingAndGlyphs" stroke="#000" stroke-width="0.1">Phase 3</text>
<text x="377.40" y="37.50" font-size="5.6" style="font-family:'Liberation Sans',sans-serif;font-weight:bold" fill="#000" text-anchor="middle" textLength="18.80" lengthAdjust="spacingAndGlyphs" stroke="#000" stroke-width="0.1">Phase 4</text>
<text x="414.50" y="37.50" font-size="5.6" style="font-family:'Liberation Sans',sans-serif;font-weight:bold" fill="#000" text-anchor="middle" textLength="18.80" lengthAdjust="spacingAndGlyphs" stroke="#000" stroke-width="0.1">Phase 5</text>
<text x="461.50" y="37.50" font-size="5.6" style="font-family:'Liberation Sans',sans-serif;font-weight:bold" fill="#000" text-anchor="middle" textLength="18.80" lengthAdjust="spacingAndGlyphs" stroke="#000" stroke-width="0.1">Phase 6</text>
<text x="302.00" y="134.60" font-size="5.6" style="font-family:'Liberation Sans',sans-serif;font-weight:bold" fill="#000" text-anchor="middle" textLength="18.80" lengthAdjust="spacingAndGlyphs" stroke="#000" stroke-width="0.1">Phase 1</text>
<text x="331.60" y="134.60" font-size="5.6" style="font-family:'Liberation Sans',sans-serif;font-weight:bold" fill="#000" text-anchor="middle" textLength="18.80" lengthAdjust="spacingAndGlyphs" stroke="#000" stroke-width="0.1">Phase 2</text>
<text x="356.40" y="134.60" font-size="5.6" style="font-family:'Liberation Sans',sans-serif;font-weight:bold" fill="#000" text-anchor="middle" textLength="18.80" lengthAdjust="spacingAndGlyphs" stroke="#000" stroke-width="0.1">Phase 3</text>
<text x="377.40" y="134.60" font-size="5.6" style="font-family:'Liberation Sans',sans-serif;font-weight:bold" fill="#000" text-anchor="middle" textLength="18.80" lengthAdjust="spacingAndGlyphs" stroke="#000" stroke-width="0.1">Phase 4</text>
<text x="414.50" y="134.60" font-size="5.6" style="font-family:'Liberation Sans',sans-serif;font-weight:bold" fill="#000" text-anchor="middle" textLength="18.80" lengthAdjust="spacingAndGlyphs" stroke="#000" stroke-width="0.1">Phase 5</text>
<text x="461.50" y="134.60" font-size="5.6" style="font-family:'Liberation Sans',sans-serif;font-weight:bold" fill="#000" text-anchor="middle" textLength="18.80" lengthAdjust="spacingAndGlyphs" stroke="#000" stroke-width="0.1">Phase 6</text>
<text x="302.00" y="233.80" font-size="5.6" style="font-family:'Liberation Sans',sans-serif;font-weight:bold" fill="#000" text-anchor="middle" textLength="18.80" lengthAdjust="spacingAndGlyphs" stroke="#000" stroke-width="0.1">Phase 1</text>
<text x="331.60" y="233.80" font-size="5.6" style="font-family:'Liberation Sans',sans-serif;font-weight:bold" fill="#000" text-anchor="middle" textLength="18.80" lengthAdjust="spacingAndGlyphs" stroke="#000" stroke-width="0.1">Phase 2</text>
<text x="356.40" y="233.80" font-size="5.6" style="font-family:'Liberation Sans',sans-serif;font-weight:bold" fill="#000" text-anchor="middle" textLength="18.80" lengthAdjust="spacingAndGlyphs" stroke="#000" stroke-width="0.1">Phase 3</text>
<text x="377.40" y="233.80" font-size="5.6" style="font-family:'Liberation Sans',sans-serif;font-weight:bold" fill="#000" text-anchor="middle" textLength="18.80" lengthAdjust="spacingAndGlyphs" stroke="#000" stroke-width="0.1">Phase 4</text>
<text x="414.50" y="233.80" font-size="5.6" style="font-family:'Liberation Sans',sans-serif;font-weight:bold" fill="#000" text-anchor="middle" textLength="18.80" lengthAdjust="spacingAndGlyphs" stroke="#000" stroke-width="0.1">Phase 5</text>
<text x="461.50" y="233.80" font-size="5.6" style="font-family:'Liberation Sans',sans-serif;font-weight:bold" fill="#000" text-anchor="middle" textLength="18.80" lengthAdjust="spacingAndGlyphs" stroke="#000" stroke-width="0.1">Phase 6</text></svg>
</body></html>
